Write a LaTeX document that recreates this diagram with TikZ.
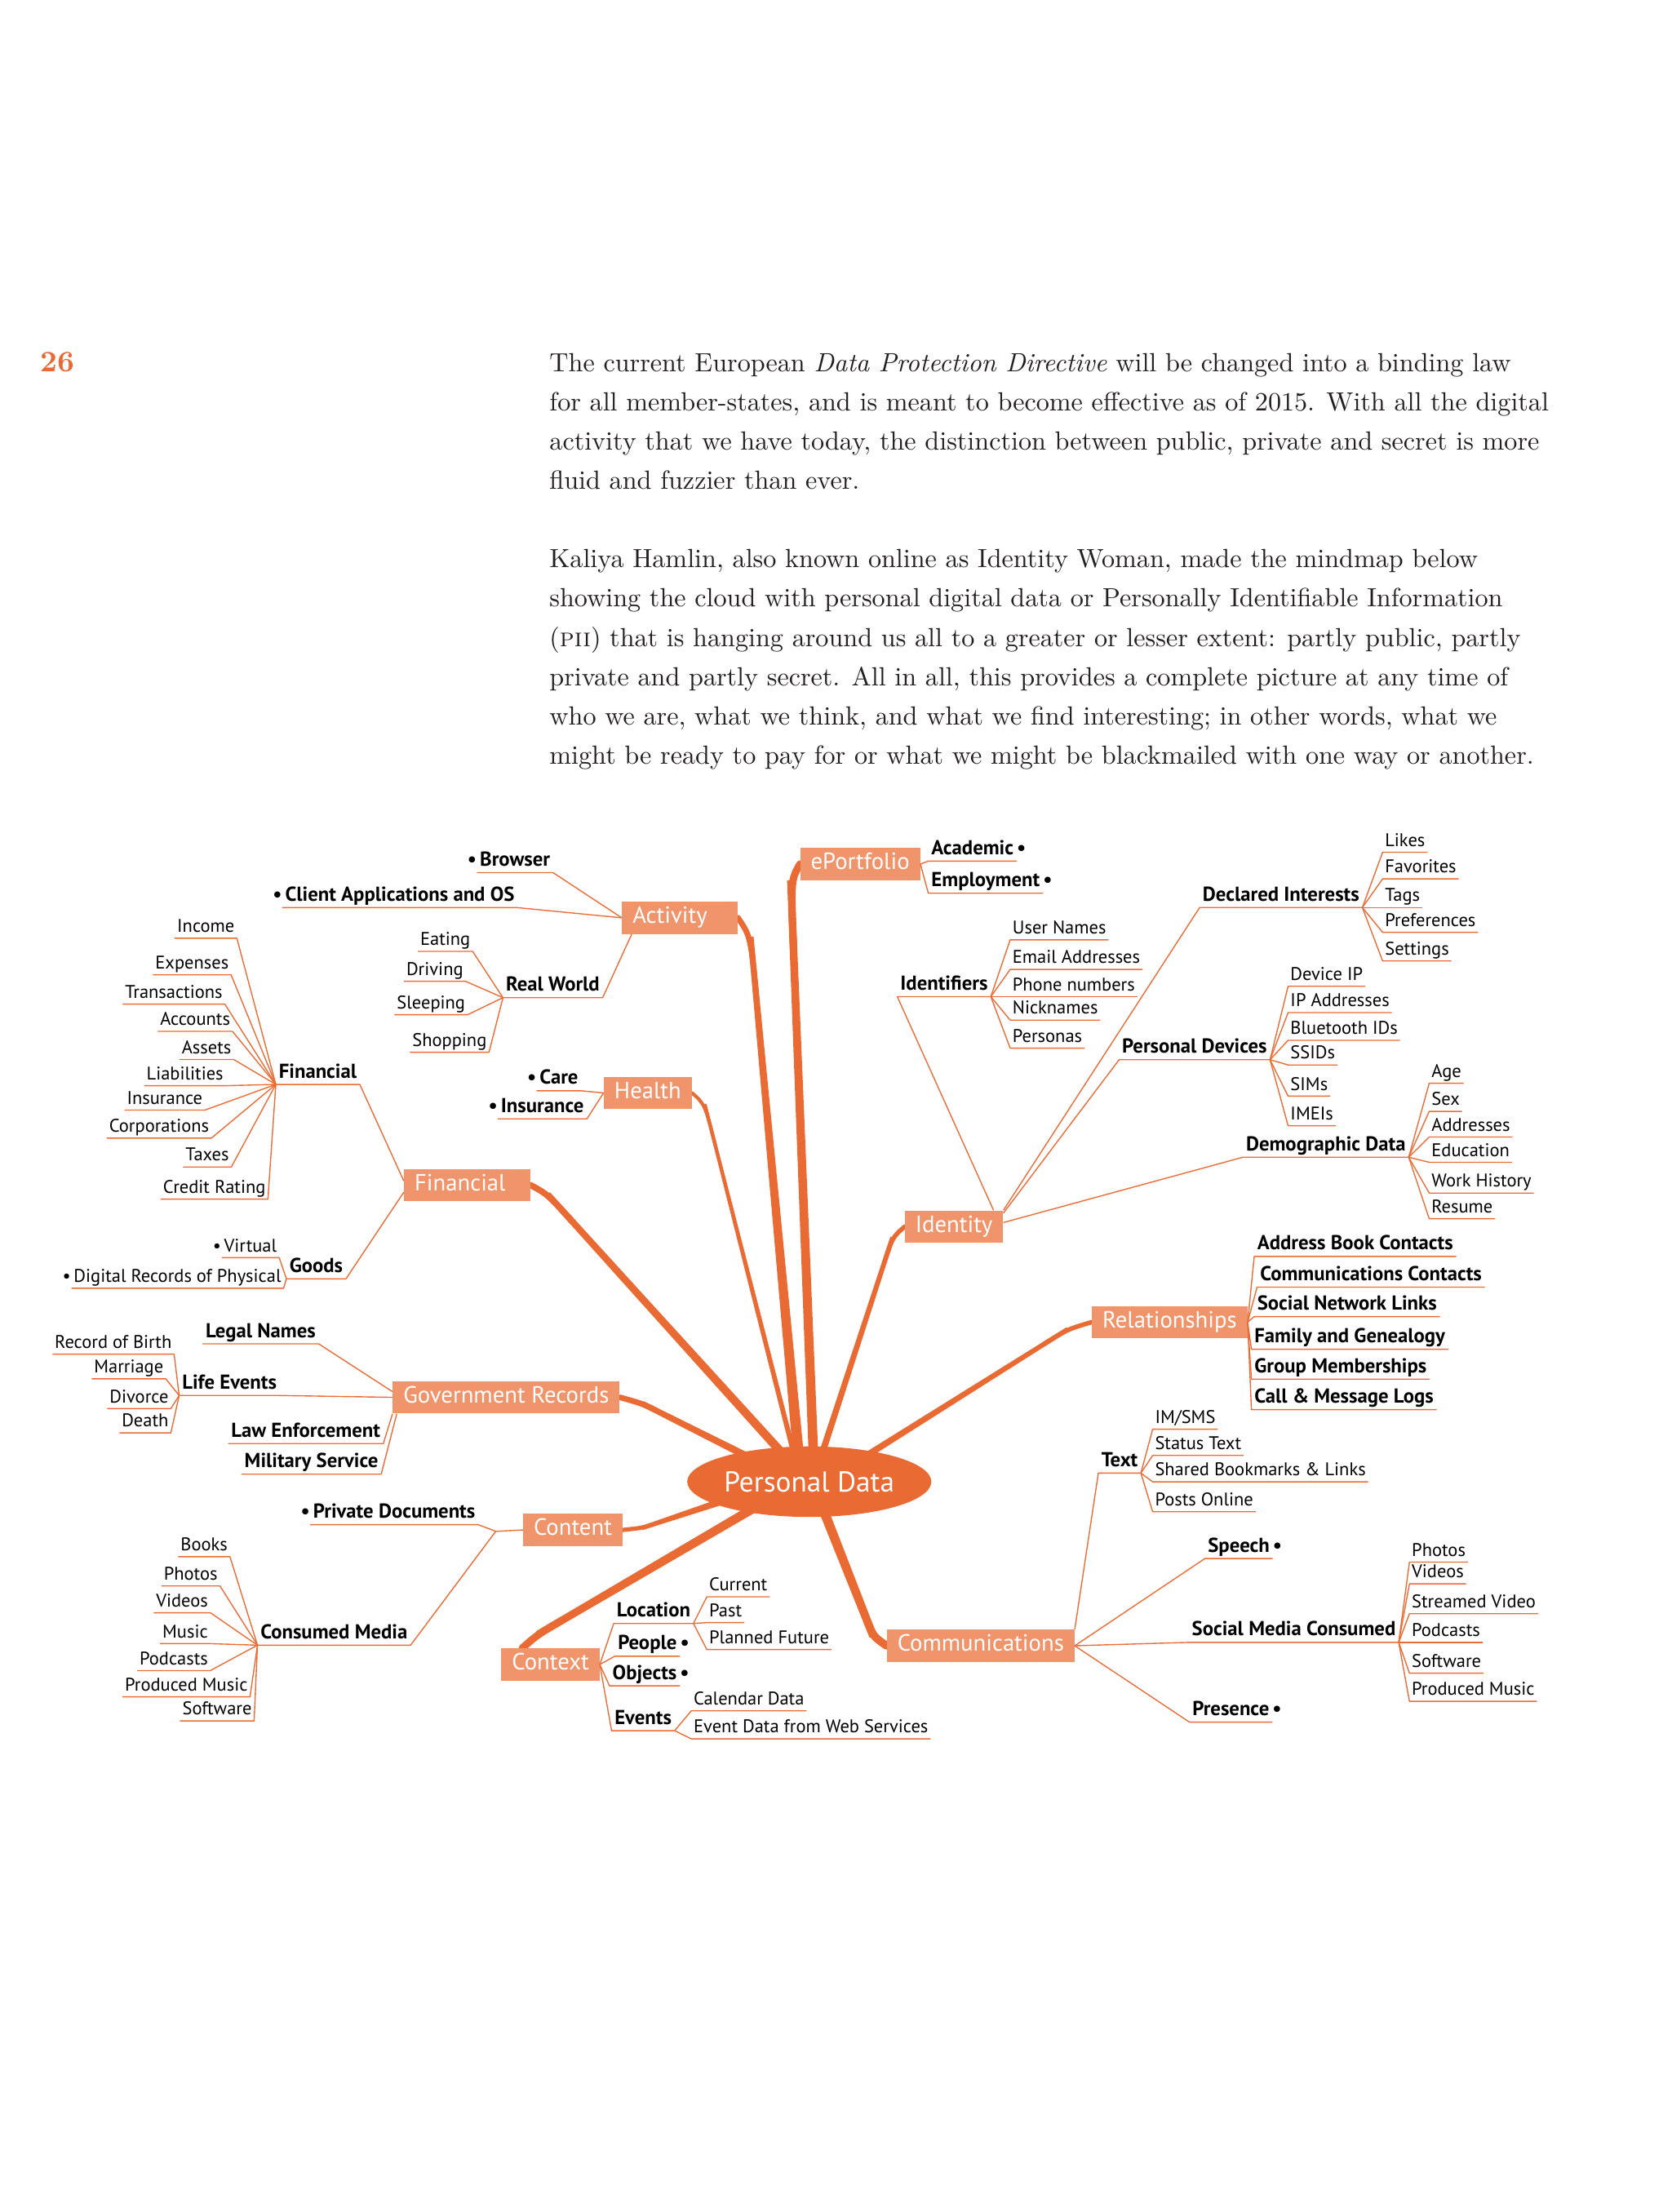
\documentclass[tikz,border=0pt]{standalone}
\usepackage{fontspec}
\usetikzlibrary{shapes.geometric, calc}
\setmainfont{lmroman10-regular.otf}[BoldFont=lmroman10-bold.otf, ItalicFont=lmroman10-italic.otf, SmallCapsFont=lmromancaps10-regular.otf]
\newfontfamily\mapfont{PT Sans}
\definecolor{trunkcol}{HTML}{EA6A33}
\definecolor{boxcol}{HTML}{F0946C}
\definecolor{linecol}{HTML}{EC6C36}
\definecolor{textcol}{HTML}{231F20}
\pgfdeclarelayer{background}
\pgfsetlayers{background,main}
\newcommand{\leaffont}{\mapfont\fontsize{13}{15}\selectfont}
\newcommand{\midfont}{\mapfont\bfseries\fontsize{14.3}{16}\selectfont}
\newcommand{\topicfont}{\mapfont\fontsize{16.6}{18}\selectfont}
\newcommand{\bodyfont}{\fontsize{18.6}{22}\selectfont}
\newcommand{\dotl}{\llap{\textbullet\,}}
\newcommand{\dotr}{\rlap{\,\textbullet}}
% #1 box side, #2 bend, #3 end in the hub, #4/#5 half widths
\newcommand{\trunk}[5]{%
  \draw[trunkcol, line width=#4*2, line cap=round] (#1) .. controls (#2) .. ($(#2)!0.12!(#3)$);
  \fill[trunkcol] ($(#2)!#4!90:(#3)$) -- ($(#3)!#5!-90:(#2)$) -- ($(#3)!#5!90:(#2)$) -- ($(#2)!#4!-90:(#3)$) -- cycle;
}

\begin{document}
\begin{tikzpicture}[x=1pt, y=-1pt,
  leaf/.style={font=\leaffont, inner xsep=1.5pt, inner ysep=1pt, text height=9.2pt, text depth=3pt},
  mid/.style={font=\midfont, inner xsep=2pt, inner ysep=1pt, text height=10.4pt, text depth=3.4pt},
  topic/.style={fill=boxcol, text=white, font=\topicfont, anchor=west, align=left, inner xsep=7.5pt, inner ysep=4pt, text height=11.5pt, text depth=3.5pt},
  hub/.style={ellipse, fill=trunkcol, text=white, font=\mapfont\fontsize{20.4}{22}\selectfont, minimum width=173pt, minimum height=50pt, inner sep=0pt},
  link/.style={draw=linecol, line width=0.8pt, line join=round},
  body/.style={anchor=base west, inner sep=0pt, font=\bodyfont, text=textcol}
]
\begin{pgfonlayer}{background}
\fill[white] (0,0) rectangle (1185,1568);
\end{pgfonlayer}
\useasboundingbox (0,0) rectangle (1185,1568);

% Page number and text
\node[anchor=base west, inner sep=0pt, text=trunkcol, font=\fontsize{21}{21}\selectfont\bfseries] (page) at (28.7,263.5) {26};
\node[body] (p1) at (389.3,263.5) {The current European \emph{Data Protection Directive} will be changed into a binding law};
\node[body] (p2) at (389.3,291.3) {for all member-states, and is meant to become effective as of 2015. With all the digital};
\node[body] (p3) at (389.3,319.1) {activity that we have today, the distinction between public, private and secret is more};
\node[body] (p4) at (389.3,346.9) {fluid and fuzzier than ever.};
\node[body] (q1) at (389.3,402.5) {Kaliya Hamlin, also known online as Identity Woman, made the mindmap below};
\node[body] (q2) at (389.3,430.3) {showing the cloud with personal digital data or Personally Identifiable Information};
\node[body] (q3) at (389.3,458.1) {(\textsc{pii}) that is hanging around us all to a greater or lesser extent: partly public, partly};
\node[body] (q4) at (389.3,485.9) {private and partly secret. All in all, this provides a complete picture at any time of};
\node[body] (q5) at (389.3,513.7) {who we are, what we think, and what we find interesting; in other words, what we};
\node[body] (q6) at (389.3,541.5) {might be ready to pay for or what we might be blackmailed with one way or another.};

% Hub and topics
\node[hub] (pd) at (573.6,1050.3) {Personal Data};
\node[topic, text width=67pt] (act) at (440.7,650.6) {Activity};
\node[topic] (eport) at (567,612.5) {ePortfolio};
\node[topic] (health) at (427.8,774.75) {Health};
\node[topic, text width=74.6pt] (fin) at (286.2,840.1) {Financial};
\node[topic] (ident) at (641.1,869.6) {Identity};
\node[topic] (rel) at (773.8,937.2) {Relationships};
\node[topic] (gov) at (278.2,990.5) {Government Records};
\node[topic] (cont) at (370.6,1084.5) {Content};
\node[topic] (ctx) at (355.2,1179.9) {Context};
\node[topic] (comm) at (628.4,1166.6) {Communications};

\begin{pgfonlayer}{background}
\trunk{act.east}{[xshift=9pt,yshift=-13.4pt]act.east}{[xshift=-7.6pt,yshift=-6.7pt]pd.north}{2pt}{3.8pt}
\trunk{eport.west}{[xshift=-6.5pt,yshift=-11.5pt]eport.west}{[xshift=3pt,yshift=-7pt]pd.north}{2.6pt}{3.4pt}
\trunk{health.east}{[xshift=9pt,yshift=-8pt]health.east}{[xshift=-10.5pt,yshift=-7pt]pd.north}{1.2pt}{1.8pt}
\trunk{fin.east}{[xshift=12pt,yshift=-6.5pt]fin.east}{[xshift=-16.5pt,yshift=-8pt]pd.north}{2.2pt}{3.1pt}
\trunk{ident.west}{[xshift=-8.5pt,yshift=-7.5pt]ident.west}{[xshift=8.5pt,yshift=-7pt]pd.north}{1.6pt}{2.3pt}
\trunk{rel.west}{[xshift=-17pt,yshift=-5pt]rel.west}{[xshift=38.5pt,yshift=-8pt]pd.north}{1.6pt}{2.3pt}
\trunk{gov.east}{[xshift=16pt,yshift=-4.5pt]gov.east}{[xshift=-38.5pt,yshift=-10pt]pd.north}{2pt}{2.6pt}
\trunk{cont.east}{[xshift=14pt,yshift=1.5pt]cont.east}{[xshift=-62pt,yshift=-14pt]pd.center}{1.5pt}{2.4pt}
\trunk{[xshift=15pt]ctx.north west}{[xshift=26pt,yshift=9.6pt]ctx.north west}{[xshift=-38pt,yshift=-18pt]pd.center}{2.6pt}{3.2pt}
\trunk{comm.west}{[xshift=-9.4pt,yshift=6.6pt]comm.west}{[xshift=10pt,yshift=-20pt]pd.center}{2.8pt}{3.4pt}
\end{pgfonlayer}

% Activity
\node[mid, anchor=south west] (browser) at (338,618.6) {\dotl Browser};
\node[mid, anchor=south west] (client) at (200,643.4) {\dotl Client Applications and OS};
\node[mid, anchor=south west] (realw) at (356.5,707.2) {Real World};
\draw[link] (act.west) -- (browser.south east) -- (browser.south west);
\draw[link] (act.west) -- (client.south east) -- (client.south west);
\draw[link] ([xshift=7pt]act.south west) -- (realw.south east) -- (realw.south west);
\foreach \n/\x/\y/\t in {eat/335/674.4/Eating, drv/330/695.6/Driving, slp/331.4/719.3/Sleeping, shp/346.6/745.9/Shopping} {
  \node[leaf, anchor=south east] (\n) at (\x,\y) {\t};
  \draw[link] (realw.south west) -- (\n.south east) -- (\n.south west);
}

% Financial
\node[mid, anchor=south west] (finsub) at (195.5,768.7) {Financial};
\node[mid, anchor=south west] (goods) at (203,906.5) {Goods};
\draw[link] ([yshift=3pt]fin.west) -- (finsub.south east) -- (finsub.south west);
\draw[link] ([yshift=-5pt]fin.west) -- (goods.south east) -- (goods.south west);
\foreach \n/\x/\y/\t in {inc/167.9/665.1/Income, exps/163.8/691/Expenses, trans/159.4/711.8/Transactions,
    acc/164.8/731.1/Accounts, ass/165.6/751/Assets, liab/160/769.6/Liabilities, finins/145.2/786.9/Insurance,
    corp/149.8/806.8/Corporations, tax/164/827.2/Taxes, cred/189.9/850/Credit Rating} {
  \node[leaf, anchor=south east] (\n) at (\x,\y) {\t};
  \draw[link] (finsub.south west) -- (\n.south east) -- (\n.south west);
}
\foreach \n/\x/\y/\t in {virt/197.9/891.5/{\dotl Virtual}, digi/201/913.2/{\dotl Digital Records of Physical}} {
  \node[leaf, anchor=south east] (\n) at (\x,\y) {\t};
  \draw[link] (goods.south west) -- (\n.south east) -- (\n.south west);
}

% Health
\node[mid, anchor=south east] (care) at (412,773.2) {\dotl Care};
\node[mid, anchor=south east] (hins) at (416,793.1) {\dotl Insurance};
\draw[link] (health.west) -- (care.south east) -- (care.south west);
\draw[link] (health.west) -- (hins.south east) -- (hins.south west);

% ePortfolio
\node[mid, anchor=south west] (acad) at (658,610.4) {Academic\dotr};
\node[mid, anchor=south west] (empl) at (658,633.2) {Employment\dotr};
\draw[link] (eport.east) -- (acad.south west) -- (acad.south east);
\draw[link] (eport.east) -- (empl.south west) -- (empl.south east);

% Identity
\node[mid, anchor=south west] (ids) at (636,706.5) {Identifiers};
\node[mid, anchor=south west] (decl) at (850.3,643.3) {Declared Interests};
\node[mid, anchor=south west] (pdev) at (793.2,751.2) {Personal Devices};
\node[mid, anchor=south west] (demo) at (881,820.3) {Demographic Data};
\draw[link] ([xshift=-7pt]ident.north east) -- (ids.south west) -- (ids.south east);
\draw[link] (ident.north east) -- (decl.south west) -- (decl.south east);
\draw[link] ([yshift=-2pt]ident.north east) -- (pdev.south west) -- (pdev.south east);
\draw[link] ([yshift=3pt]ident.east) -- (demo.south west) -- (demo.south east);
\foreach \n/\y/\t in {un/666.2/User Names, em/687.2/Email Addresses, ph/706.5/Phone numbers, nick/723.1/Nicknames, pers/743/Personas} {
  \node[leaf, anchor=south west] (\n) at (716,\y) {\t};
  \draw[link] (ids.south east) -- (\n.south west) -- (\n.south east);
}
\foreach \n/\y/\t in {likes/604.1/Likes, fav/623/Favorites, tags/643.3/Tags, pref/660.9/Preferences, sett/681.2/Settings} {
  \node[leaf, anchor=south west] (\n) at (980,\y) {\t};
  \draw[link] (decl.south east) -- (\n.south west) -- (\n.south east);
}
\foreach \n/\y/\t in {dip/699.1/Device IP, ipa/717.8/IP Addresses, bt/737.4/Bluetooth IDs, ssid/754.9/SSIDs, sim/777/SIMs, imei/798/IMEIs} {
  \node[leaf, anchor=south west] (\n) at (913,\y) {\t};
  \draw[link] (pdev.south east) -- (\n.south west) -- (\n.south east);
}
\foreach \n/\y/\t in {age/767.9/Age, sex/787.8/Sex, addr/806/Addresses, edu/823.9/Education, work/845.7/Work History, res/863.9/Resume} {
  \node[leaf, anchor=south west] (\n) at (1013,\y) {\t};
  \draw[link] (demo.south east) -- (\n.south west) -- (\n.south east);
}

% Relationships
\foreach \n/\x/\y/\t in {abc/889/890.6/Address Book Contacts, cc/891/912.4/Communications Contacts, snl/889/933.3/Social Network Links,
    fam/887/956.4/Family and Genealogy, grp/887/977.6/Group Memberships, cml/887/999.2/{Call \& Message Logs}} {
  \node[mid, anchor=south west] (\n) at (\x,\y) {\t};
  \draw[link] (rel.east) -- (\n.south west) -- (\n.south east);
}

% Government Records
\node[mid, anchor=south east] (legal) at (225.9,952.6) {Legal Names};
\node[mid, anchor=south west] (life) at (127,989.2) {Life Events};
\node[mid, anchor=south east] (law) at (271.7,1023.3) {Law Enforcement};
\node[mid, anchor=south east] (mil) at (270.2,1045) {Military Service};
\draw[link] ([yshift=4pt]gov.west) -- (legal.south east) -- (legal.south west);
\draw[link] (gov.west) -- (life.south east) -- (life.south west);
\draw[link] (gov.south west) -- (law.south east) -- (law.south west);
\draw[link] ([xshift=3pt]gov.south west) -- (mil.south east) -- (mil.south west);
\foreach \n/\x/\y/\t in {rob/123.4/959.9/Record of Birth, mar/117.5/977.4/Marriage, div/121.1/998.5/Divorce, dth/121.1/1015.7/Death} {
  \node[leaf, anchor=south east] (\n) at (\x,\y) {\t};
  \draw[link] (life.south west) -- (\n.south east) -- (\n.south west);
}

% Content
\coordinate (contj) at (351.4,1085.5);
\node[mid, anchor=south east] (priv) at (339,1080.8) {\dotl Private Documents};
\node[mid, anchor=south west] (cmed) at (182.5,1166.2) {Consumed Media};
\draw[link] (cont.west) -- (contj) -- (priv.south east) -- (priv.south west);
\draw[link] (contj) -- (cmed.south east) -- (cmed.south west);
\foreach \n/\x/\y/\t in {book/163/1103.5/Books, cphot/155.9/1124.2/Photos, cvid/149.1/1143.2/Videos, mus/149/1165.1/Music,
    cpod/149.1/1184.2/Podcasts, cprod/177.2/1202.8/Produced Music, csoft/180.1/1219.9/Software} {
  \node[leaf, anchor=south east] (\n) at (\x,\y) {\t};
  \draw[link] (cmed.south west) -- (\n.south east) -- (\n.south west);
}

% Context
\foreach \n/\x/\y/\t in {loc/435/1150.8/Location, ppl/435.8/1174/{People\dotr}, obj/432/1195/{Objects\dotr}, evt/433.5/1226.8/Events} {
  \node[mid, anchor=south west] (\n) at (\x,\y) {\t};
  \draw[link] (ctx.east) -- (\n.south west) -- (\n.south east);
}
\foreach \n/\y/\t in {cur/1131.9/Current, past/1150.2/Past, plan/1169.3/Planned Future} {
  \node[leaf, anchor=south west] (\n) at (501,\y) {\t};
  \draw[link] (loc.south east) -- (\n.south west) -- (\n.south east);
}
\foreach \n/\y/\t in {cal/1212.7/Calendar Data, web/1232.6/Event Data from Web Services} {
  \node[leaf, anchor=south west] (\n) at (490,\y) {\t};
  \draw[link] (evt.south east) -- (\n.south west) -- (\n.south east);
}

% Communications
\node[mid, anchor=south west] (txt) at (778.5,1044.2) {Text};
\node[mid, anchor=south west] (speech) at (854,1104.8) {Speech\dotr};
\node[mid, anchor=south east] (socm) at (991.4,1164.2) {Social Media Consumed};
\node[mid, anchor=south west] (pres) at (843,1220.7) {Presence\dotr};
\draw[link] (comm.north east) -- (txt.south west) -- (txt.south east);
\draw[link] (comm.east) -- (speech.south west) -- (speech.south east);
\draw[link] (comm.east) -- (socm.south west) -- (socm.south east);
\draw[link] (comm.east) -- (pres.south west) -- (pres.south east);
\foreach \n/\y/\t in {ims/1013.1/{IM/SMS}, stat/1031.7/Status Text, shb/1050.4/{Shared Bookmarks \& Links}, post/1071.6/Posts Online} {
  \node[leaf, anchor=south west] (\n) at (817,\y) {\t};
  \draw[link] (txt.south east) -- (\n.south west) -- (\n.south east);
}
\foreach \n/\y/\t in {sphot/1107.3/Photos, svid/1122.7/Videos, sstr/1143.9/Streamed Video, spod/1164.2/Podcasts, ssoft/1186/Software, sprod/1206/Produced Music} {
  \node[leaf, anchor=south west] (\n) at (999,\y) {\t};
  \draw[link] (socm.south east) -- (\n.south west) -- (\n.south east);
}
\end{tikzpicture}
\end{document}
